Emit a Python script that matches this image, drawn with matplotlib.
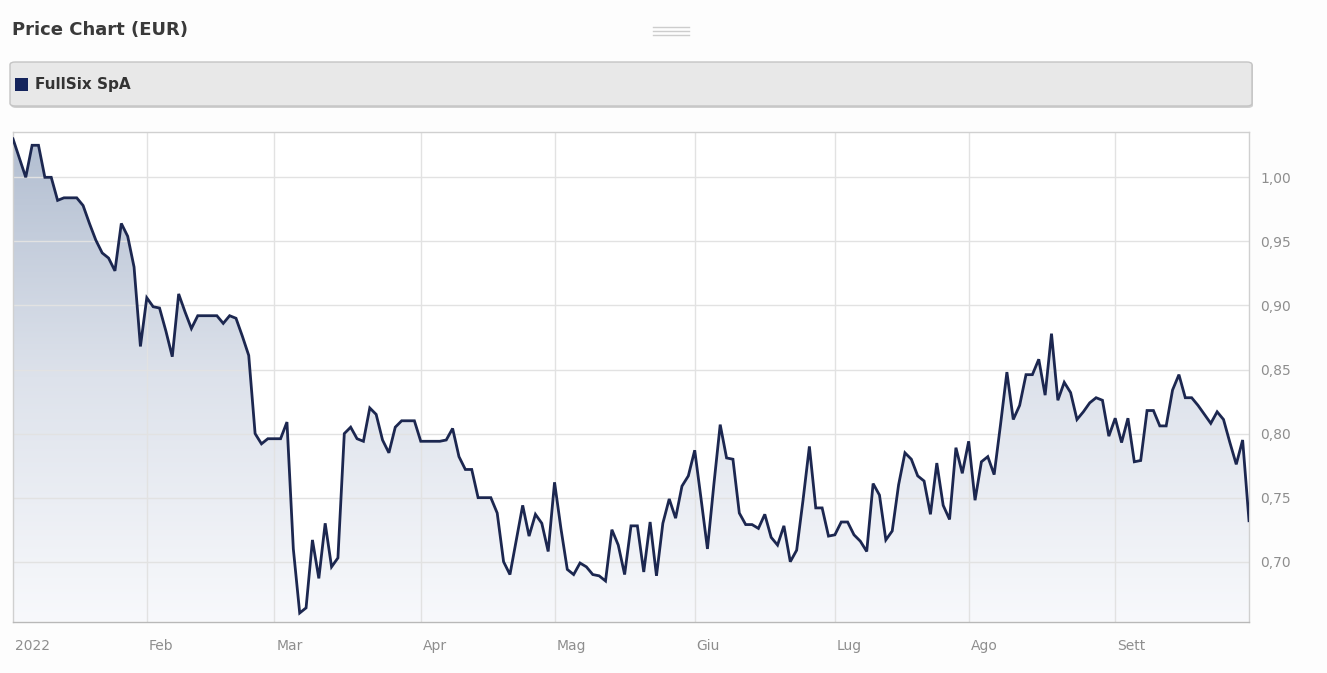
import matplotlib
matplotlib.use("Agg")
import matplotlib.pyplot as plt
import numpy as np
from matplotlib.patches import FancyBboxPatch, Rectangle
from matplotlib.colors import LinearSegmentedColormap
from matplotlib.lines import Line2D

# ---- data (daily closing prices, trading-day index) ----
prices = [
    1.030, 1.015, 1.000, 1.025, 1.025, 1.000, 1.000, 0.982, 0.984, 0.984,
    0.984, 0.978, 0.964, 0.951, 0.941, 0.937, 0.927, 0.964, 0.954, 0.930,
    0.868, 0.906, 0.899, 0.898, 0.880, 0.860, 0.909, 0.895, 0.882, 0.892,
    0.892, 0.892, 0.892, 0.886, 0.892, 0.890, 0.876, 0.861, 0.800, 0.792,
    0.796, 0.796, 0.796, 0.809, 0.710, 0.660, 0.664, 0.717, 0.687, 0.730,
    0.696, 0.703, 0.800, 0.805, 0.796, 0.794, 0.820, 0.815, 0.795, 0.785,
    0.805, 0.810, 0.810, 0.810, 0.794, 0.794, 0.794, 0.794, 0.795, 0.804,
    0.782, 0.772, 0.772, 0.750, 0.750, 0.750, 0.738, 0.700, 0.690, 0.717,
    0.744, 0.720, 0.737, 0.730, 0.708, 0.762, 0.726, 0.694, 0.690, 0.699,
    0.696, 0.690, 0.689, 0.685, 0.725, 0.713, 0.690, 0.728, 0.728, 0.692,
    0.731, 0.689, 0.730, 0.749, 0.734, 0.759, 0.767, 0.787, 0.749, 0.710,
    0.760, 0.807, 0.781, 0.780, 0.738, 0.729, 0.729, 0.726, 0.737, 0.719,
    0.713, 0.728, 0.700, 0.709, 0.748, 0.790, 0.742, 0.742, 0.720, 0.721,
    0.731, 0.731, 0.721, 0.716, 0.708, 0.761, 0.752, 0.717, 0.724, 0.760,
    0.785, 0.780, 0.767, 0.763, 0.737, 0.777, 0.744, 0.733, 0.789, 0.769,
    0.794, 0.748, 0.778, 0.782, 0.768, 0.807, 0.848, 0.811, 0.822, 0.846,
    0.846, 0.858, 0.830, 0.878, 0.826, 0.840, 0.832, 0.811, 0.817, 0.824,
    0.828, 0.826, 0.798, 0.812, 0.793, 0.812, 0.778, 0.779, 0.818, 0.818,
    0.806, 0.806, 0.834, 0.846, 0.828, 0.828, 0.822, 0.815, 0.808, 0.817,
    0.811, 0.793, 0.776, 0.795, 0.732,
]
month_labels = ["2022", "Feb", "Mar", "Apr", "Mag", "Giu", "Lug", "Ago", "Sett"]
month_start_idx = [0, 21, 41, 64, 85, 107, 129, 150, 173]
y_ticks = [0.70, 0.75, 0.80, 0.85, 0.90, 0.95, 1.00]
series_name = "FullSix SpA"
title = "Price Chart (EUR)"

W, H = 1327, 673
fig = plt.figure(figsize=(W / 100, H / 100), dpi=100, facecolor="#fdfdfd")

def fx(px):
    return px / W

def fy(py):
    return 1 - py / H

# title
fig.text(fx(12), fy(30), title, fontsize=13, fontweight="bold", color="#3a3a3a",
         va="center", ha="left", family="DejaVu Sans")

# drag handle
for yy in (27, 31, 35):
    fig.add_artist(Line2D([fx(653), fx(689)], [fy(yy), fy(yy)], color="#cdcdcd", lw=1.0))

# legend box
shadow = FancyBboxPatch((fx(11), fy(108)), fx(1242), (107 - 62) / H,
                        boxstyle="round,pad=0,rounding_size=0.004",
                        transform=fig.transFigure, facecolor="#d0d0d0", edgecolor="none")
fig.add_artist(shadow)
legbox = FancyBboxPatch((fx(10), fy(106)), fx(1242), (106 - 62) / H,
                        boxstyle="round,pad=0,rounding_size=0.004",
                        transform=fig.transFigure, facecolor="#e8e8e8", edgecolor="#c4c4c4", lw=1)
fig.add_artist(legbox)
fig.add_artist(Rectangle((fx(15), fy(91)), fx(13), 13 / H, transform=fig.transFigure,
                         facecolor="#14245c", edgecolor="none"))
fig.text(fx(35), fy(85), series_name, fontsize=11, fontweight="bold", color="#333333",
         va="center", ha="left", family="DejaVu Sans")

# axes
left, right, top, bottom = 13, 1249, 131.7, 621.7
ax = fig.add_axes([fx(left), fy(bottom), fx(right - left), (bottom - top) / H])
ax.set_facecolor("white")
x = np.arange(len(prices))
y = np.array(prices)
ymin, ymax = 0.6532, 1.0356
ax.set_xlim(0, len(prices) - 1)
ax.set_ylim(ymin, ymax)

# gradient fill under the line
cmap = LinearSegmentedColormap.from_list("g", ["#f8f9fc", "#dde2eb", "#b1bdd0"])
grad = np.linspace(0, 1, 256).reshape(-1, 1)
im = ax.imshow(grad, extent=[0, len(prices) - 1, ymin, ymax], origin="lower",
               aspect="auto", cmap=cmap, zorder=1)
poly = ax.fill_between(x, y, ymin, facecolor="none", edgecolor="none", zorder=1)
im.set_clip_path(poly.get_paths()[0], transform=ax.transData)

ax.plot(x, y, color="#1c2750", lw=2.0, zorder=3, solid_joinstyle="miter")

# grid
for t in y_ticks:
    ax.axhline(t, color="#e2e2e2", lw=1, zorder=2)
for m in month_start_idx[1:]:
    ax.axvline(m, color="#e2e2e2", lw=1, zorder=2)

ax.set_xticks(month_start_idx)
ax.set_xticklabels([])
for m, lab in zip(month_start_idx, month_labels):
    ax.annotate(lab, xy=(m, 0), xycoords=("data", "axes fraction"),
                xytext=(2, -24), textcoords="offset pixels", ha="left", va="center",
                fontsize=10, color="#8e8e8e", family="DejaVu Sans")
ax.tick_params(axis="x", length=0)

ax.yaxis.tick_right()
ax.set_yticks(y_ticks)
ax.set_yticklabels([f"{t:.2f}".replace(".", ",") for t in y_ticks], fontsize=10, color="#8e8e8e")
ax.tick_params(axis="y", length=0, pad=8)

for s in ax.spines.values():
    s.set_color("#d0d0d0")
    s.set_linewidth(1)
ax.spines["bottom"].set_color("#b8b8b8")

fig.savefig("out.png", dpi=100, facecolor=fig.get_facecolor())
